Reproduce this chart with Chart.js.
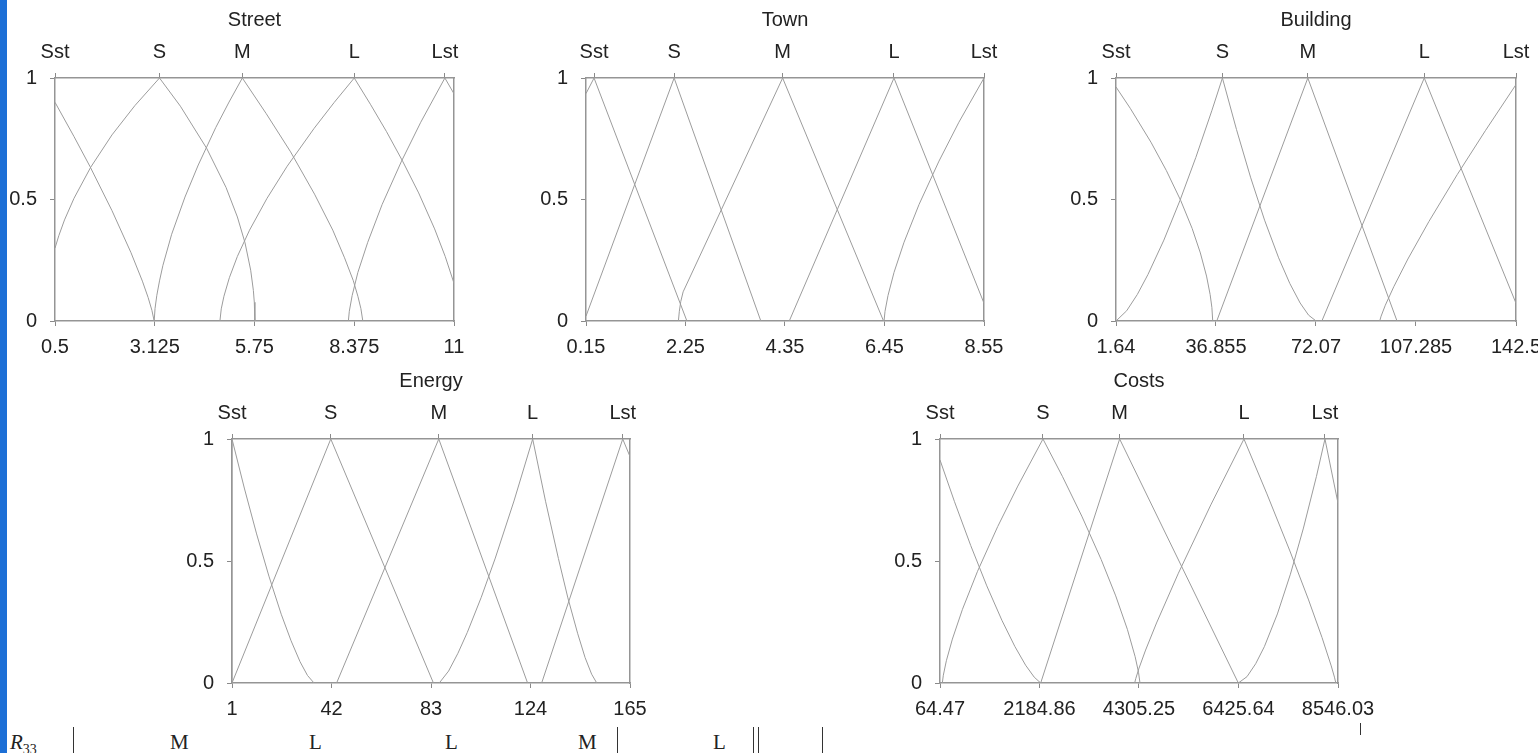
<!DOCTYPE html>
<html><head><meta charset="utf-8">
<script src="https://cdn.jsdelivr.net/npm/chart.js@4.4.1/dist/chart.umd.min.js"></script>
<style>
html,body{margin:0;padding:0;background:#fff;width:1538px;height:753px;overflow:hidden;position:relative;}
canvas{position:absolute;}
.blue{position:absolute;left:0;top:0;width:7px;height:753px;background:#1c6fd6;}
.tx{position:absolute;font-family:"Liberation Serif","DejaVu Serif",serif;font-size:21px;line-height:21px;color:#222;white-space:nowrap;}
.bar{position:absolute;width:1px;background:#333;}
</style></head><body>
<div class="blue"></div>
<div class="tx" style="left:10px;top:732px"><i>R</i><span style="font-size:14px;position:relative;top:5px">33</span></div>
<div class="bar" style="left:73px;top:727px;height:26px"></div>
<div class="tx" style="left:170px;top:732px">M</div>
<div class="tx" style="left:309px;top:732px">L</div>
<div class="tx" style="left:445px;top:732px">L</div>
<div class="tx" style="left:578px;top:732px">M</div>
<div class="bar" style="left:617px;top:727px;height:26px"></div>
<div class="tx" style="left:713px;top:732px">L</div>
<div class="bar" style="left:753px;top:727px;height:26px"></div>
<div class="bar" style="left:758px;top:727px;height:26px"></div>
<div class="bar" style="left:822px;top:727px;height:26px"></div>
<div class="bar" style="left:1360px;top:723px;height:12px"></div>
<script>
// ---------- data ----------
const categories = ['Sst', 'S', 'M', 'L', 'Lst'];
const yTicks = [0, 0.5, 1];
const yTickLabels = ['0', '0.5', '1'];

// Street
const streetTicks = [0.5, 3.125, 5.75, 8.375, 11];
const streetTickLabels = ['0.5', '3.125', '5.75', '8.375', '11'];
const streetPeaks = [0.5, 3.25, 5.43, 8.375, 10.76];
const streetSst = [[0.5,0.9],[1.0,0.759],[1.42,0.636],[2.0,0.454],[2.5,0.281],[2.8,0.164],[2.95,0.097],[3.05,0.044],[3.11,0]];
const streetS = [[0.5,0.30],[0.6,0.351],[0.75,0.416],[1.0,0.505],[1.44,0.633],[2.0,0.766],[2.6,0.886],[3.25,1],[3.8,0.884],[4.49,0.711],[5.0,0.55],[5.3,0.428],[5.5,0.322],[5.65,0.209],[5.72,0.126],[5.745,0.077],[5.76,0]];
const streetM = [[3.11,0],[3.133,0.052],[3.18,0.106],[3.25,0.165],[3.34,0.229],[3.57,0.357],[3.92,0.51],[4.27,0.642],[4.73,0.796],[5.08,0.901],[5.43,1],[6.06,0.853],[6.70,0.696],[7.33,0.522],[7.81,0.374],[8.12,0.26],[8.35,0.166],[8.47,0.102],[8.55,0.051],[8.6,0]];
const streetL = [[4.84,0],[4.875,0.05],[4.946,0.102],[5.088,0.178],[5.30,0.266],[5.62,0.374],[6.08,0.505],[6.61,0.637],[7.32,0.793],[7.85,0.9],[8.375,1],[8.80,0.892],[9.225,0.779],[9.647,0.658],[10.07,0.527],[10.49,0.379],[10.77,0.265],[11,0.155]];
const streetLst = [[8.22,0],[8.245,0.04],[8.32,0.105],[8.47,0.2],[8.73,0.324],[9.11,0.48],[9.62,0.658],[10.125,0.818],[10.76,1],[11,0.935]];

// Town
const townTicks = [0.15, 2.25, 4.35, 6.45, 8.55];
const townTickLabels = ['0.15', '2.25', '4.35', '6.45', '8.55'];
const townPeaks = [0.32, 2.01, 4.30, 6.65, 8.55];
const townSst = [[0.15,0.936],[0.32,1],[2.28,0]];
const townS = [[0.15,0.02],[2.01,1],[3.84,0]];
const townM = [[2.10,0],[2.12,0.04],[2.15,0.08],[2.2,0.12],[4.30,1],[6.43,0]];
const townL = [[4.44,0],[6.65,1],[8.55,0.073]];
const townLst = [[6.44,0],[6.461,0.04],[6.524,0.105],[6.651,0.2],[6.862,0.324],[7.18,0.48],[7.60,0.658],[8.02,0.818],[8.55,1]];

// Building
const buildingTicks = [1.64, 36.855, 72.07, 107.285, 142.5];
const buildingTickLabels = ['1.64', '36.855', '72.07', '107.285', '142.5'];
const buildingPeaks = [1.64, 39.12, 69.19, 110.2, 142.5];
const buildingSst = [[1.64,0.963],[6.68,0.875],[13.94,0.736],[19.38,0.619],[24.46,0.495],[28.45,0.381],[31.35,0.28],[33.52,0.185],[34.79,0.109],[35.41,0.055],[35.7,0]];
const buildingS = [[1.64,0],[5.39,0.042],[9.14,0.109],[12.88,0.191],[18.51,0.333],[24.13,0.495],[29.75,0.673],[35.37,0.865],[39.12,1],[44.07,0.788],[49.01,0.592],[53.96,0.415],[58.91,0.26],[62.87,0.154],[66.49,0.074],[69.46,0.024],[72.1,0]];
const buildingM = [[37.12,0],[69.19,1],[100.6,0]];
const buildingL = [[74.13,0],[110.2,1],[142.5,0.073]];
const buildingLst = [[94.5,0],[95.0,0.02],[96.48,0.065],[99.46,0.141],[104.42,0.255],[111.86,0.41],[121.78,0.602],[131.7,0.783],[142.5,0.973]];

// Energy
const energyTicks = [1, 42, 83, 124, 165];
const energyTickLabels = ['1', '42', '83', '124', '165'];
const energyPeaks = [1, 41.7, 86.2, 124.9, 162];
const energySst = [[1,0],[1,1],[6.07,0.799],[11.14,0.611],[16.21,0.438],[21.28,0.282],[25.34,0.173],[29.05,0.087],[32.1,0.031],[34.8,0]];
const energyS = [[1,0],[41.7,1],[84,0]];
const energyM = [[44.1,0],[86.2,1],[122.8,0]];
const energyL = [[86.4,0],[90.25,0.049],[94.1,0.122],[97.95,0.207],[103.7,0.351],[109.5,0.512],[117.2,0.746],[124.9,1],[130.2,0.745],[135.5,0.51],[139.4,0.349],[143.4,0.204],[146.5,0.104],[149.2,0.036],[151.3,0]];
const energyLst = [[128.6,0],[162,1],[165,0.928]];

// Costs
const costsTicks = [64.47, 2184.86, 4305.25, 6425.64, 8546.03];
const costsTickLabels = ['64.47', '2184.86', '4305.25', '6425.64', '8546.03'];
const costsPeaks = [64.47, 2259, 3893, 6542, 8268];
const costsSst = [[64.47,0.914],[373.6,0.743],[717.9,0.564],[1062,0.398],[1383.6,0.257],[1659,0.15],[1888.6,0.073],[2072.3,0.024],[2210,0]];
const costsS = [[114,0],[135.5,0.032],[199.8,0.091],[328.5,0.18],[543,0.302],[864.8,0.458],[1293.8,0.641],[1722.8,0.807],[2259,1],[2672.4,0.847],[3085.8,0.684],[3499.2,0.506],[3809.3,0.357],[4057.3,0.22],[4222.7,0.108],[4295,0.044],[4326,0]];
const costsM = [[2210,0],[3893,1],[6422,0]];
const costsL = [[4213,0],[4236,0.018],[4306,0.061],[4446,0.135],[4679,0.246],[5145,0.45],[5843,0.733],[6542,1],[7031.5,0.775],[7521,0.541],[7912.6,0.344],[8206.3,0.186],[8402,0.07],[8470.6,0.024],[8500,0]];
const costsLst = [[6422,0],[6607,0.026],[6792,0.079],[6977,0.149],[7254.5,0.283],[7532,0.446],[7809.5,0.635],[8087,0.847],[8268,1],[8546.03,0.737]];

// ---------- layout / style ----------
const FONT = '"Liberation Sans", Arial, Helvetica, sans-serif';
const TEXT = '#222';
const GAP = {L: 60, T: 80, B: 50, R: 50};
const boxColor = '#959595';
const curveColor = '#9c9c9c';

function makeChart(rect, title, xTicks, xTickLabels, peaks, curves) {
  const c = document.createElement('canvas');
  const w = (rect.right - rect.left) + GAP.L + GAP.R;
  const h = (rect.bottom - rect.top) + GAP.T + GAP.B;
  c.width = w; c.height = h;
  c.style.left = (rect.left - GAP.L) + 'px';
  c.style.top = (rect.top - GAP.T) + 'px';
  c.style.width = w + 'px'; c.style.height = h + 'px';
  document.body.appendChild(c);
  const xmin = xTicks[0], xmax = xTicks[xTicks.length - 1];
  const font = {family: FONT, size: 20};
  const grid = {drawOnChartArea: false, drawTicks: true, tickLength: 5, color: '#8a8a8a', lineWidth: 1};
  const border = {display: true, color: boxColor, width: 1.5};
  new Chart(c, {
    type: 'scatter',
    data: {
      datasets: curves.map((pts, i) => ({
        label: categories[i],
        data: pts.map(p => ({x: p[0], y: p[1]})),
        showLine: true, pointRadius: 0, borderColor: curveColor,
        borderWidth: 1, tension: 0, fill: false
      }))
    },
    options: {
      responsive: false, animation: false, devicePixelRatio: 1, events: [],
      layout: {padding: 0, autoPadding: false},
      plugins: {legend: {display: false}, title: {display: false}, tooltip: {enabled: false}},
      scales: {
        x: {
          type: 'linear', axis: 'x', position: 'bottom', min: xmin, max: xmax,
          afterBuildTicks: a => { a.ticks = xTicks.map(v => ({value: v})); },
          ticks: {callback: (v, i) => xTickLabels[i], padding: 9, color: TEXT, font, maxRotation: 0, autoSkip: false},
          grid, border,
          afterFit: a => { a.height = GAP.B; }
        },
        x2: {
          type: 'linear', axis: 'x', position: 'top', min: xmin, max: xmax,
          afterBuildTicks: a => { a.ticks = peaks.map(v => ({value: v})); },
          ticks: {callback: (v, i) => categories[i], padding: 9, color: TEXT, font, maxRotation: 0, autoSkip: false},
          grid, border,
          title: {display: true, text: title, color: TEXT, font, padding: {top: 10, bottom: 0}},
          afterFit: a => { a.height = GAP.T; }
        },
        y: {
          type: 'linear', axis: 'y', position: 'left', min: 0, max: 1,
          afterBuildTicks: a => { a.ticks = yTicks.map(v => ({value: v})); },
          ticks: {callback: (v, i) => yTickLabels[i], padding: 13, color: TEXT, font, autoSkip: false},
          grid, border,
          afterFit: a => { a.width = GAP.L; }
        },
        y2: {
          type: 'linear', axis: 'y', position: 'right', min: 0, max: 1,
          ticks: {display: false},
          grid: {drawOnChartArea: false, drawTicks: false, color: '#8a8a8a'},
          border,
          afterFit: a => { a.width = GAP.R; }
        }
      }
    }
  });
}

makeChart({left: 55, right: 454, top: 78, bottom: 321}, 'Street', streetTicks, streetTickLabels, streetPeaks,
  [streetSst, streetS, streetM, streetL, streetLst]);
makeChart({left: 586, right: 984, top: 78, bottom: 321}, 'Town', townTicks, townTickLabels, townPeaks,
  [townSst, townS, townM, townL, townLst]);
makeChart({left: 1116, right: 1516, top: 78, bottom: 321}, 'Building', buildingTicks, buildingTickLabels, buildingPeaks,
  [buildingSst, buildingS, buildingM, buildingL, buildingLst]);
makeChart({left: 232, right: 630, top: 439, bottom: 683}, 'Energy', energyTicks, energyTickLabels, energyPeaks,
  [energySst, energyS, energyM, energyL, energyLst]);
makeChart({left: 940, right: 1338, top: 439, bottom: 683}, 'Costs', costsTicks, costsTickLabels, costsPeaks,
  [costsSst, costsS, costsM, costsL, costsLst]);
</script>
</body></html>
